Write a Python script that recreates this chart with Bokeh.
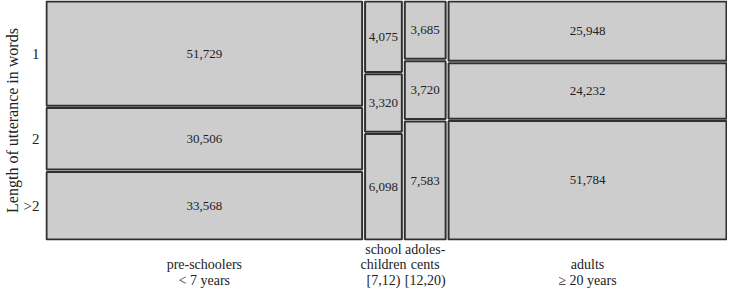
from bokeh.plotting import figure
from bokeh.models import ColumnDataSource, FixedTicker, Range1d
from bokeh.embed import file_html
from bokeh.resources import INLINE
from bokeh.core.properties import value

# ---- data ----
age_groups = ["\npre-schoolers\n< 7 years", "school\nchildren\n[7,12)",
              "adoles-\ncents\n[12,20)", "\nadults\n\u2265 20 years"]
length_labels = ["1", "2", ">2"]
len_1 = [51729, 4075, 3685, 25948]
len_2 = [30506, 3320, 3720, 24232]
len_3 = [33568, 6098, 7583, 51784]

FONT = "Liberation Serif"
gap_x = 0.0043
gap_y = 0.0100

rows = [len_1, len_2, len_3]
col_tot = [sum(r[i] for r in rows) for i in range(len(age_groups))]
grand = sum(col_tot)
avail_x = 1 - gap_x * (len(age_groups) - 1)
avail_y = 1 - gap_y * (len(rows) - 1)

L, R, T, B, XC, YC, TXT = [], [], [], [], [], [], []
col_centers = []
row_centers_first = []
x0 = 0.0
for i in range(len(age_groups)):
    w = col_tot[i] / grand * avail_x
    left, right = x0, x0 + w
    col_centers.append(round((left + right) / 2, 5))
    top = 1.0
    for j, r in enumerate(rows):
        h = r[i] / col_tot[i] * avail_y
        bottom = top - h
        L.append(left); R.append(right); T.append(top); B.append(bottom)
        XC.append((left + right) / 2); YC.append((top + bottom) / 2)
        TXT.append(f"{r[i]:,}")
        if i == 0:
            row_centers_first.append(round((top + bottom) / 2, 5))
        top = bottom - gap_y
    x0 = right + gap_x

src = ColumnDataSource(dict(left=L, right=R, top=T, bottom=B, xc=XC, yc=YC, txt=TXT))

p = figure(width=727, height=291, output_backend="svg", toolbar_location=None,
           x_range=Range1d(-0.0015, 1.0015), y_range=Range1d(-0.004, 1.004),
           min_border_left=0, min_border_right=0, min_border_top=0, min_border_bottom=0)
p.outline_line_color = None
p.grid.visible = False
p.background_fill_color = "white"

p.quad(left="left", right="right", top="top", bottom="bottom", source=src,
       fill_color="#cecdce", line_color="#303030", line_width=2)
p.text(x="xc", y="yc", text="txt", source=src, text_align="center",
       text_baseline="middle", text_font=value(FONT), text_font_size="13px",
       text_color="#222222")

# axes
ya = p.yaxis[0]
ya.ticker = FixedTicker(ticks=row_centers_first)
ya.major_label_overrides = {c: lab for c, lab in zip(row_centers_first, length_labels)}
ya.axis_label = "Length of utterance in words"
ya.axis_label_text_font = FONT
ya.axis_label_text_font_style = "normal"
ya.axis_label_text_font_size = "16px"
ya.axis_label_text_color = "#222222"
ya.axis_label_standoff = 0
ya.major_label_text_font = FONT
ya.major_label_text_font_size = "15px"
ya.major_label_text_color = "#222222"
ya.major_label_standoff = 6
ya.major_label_orientation = "horizontal"
ya.axis_line_color = None
ya.major_tick_line_color = None
ya.minor_tick_line_color = None
ya.major_tick_in = 0
ya.major_tick_out = 0

xa = p.xaxis[0]
xa.ticker = FixedTicker(ticks=col_centers)
xa.major_label_overrides = {c: lab for c, lab in zip(col_centers, age_groups)}
xa.major_label_text_font = FONT
xa.major_label_text_font_size = "14px"
xa.major_label_text_line_height = 1.05
xa.major_label_text_color = "#222222"
xa.major_label_standoff = 1
xa.axis_line_color = None
xa.major_tick_line_color = None
xa.minor_tick_line_color = None
xa.major_tick_in = 0
xa.major_tick_out = 0

open("out.html", "w").write(file_html(p, INLINE))
